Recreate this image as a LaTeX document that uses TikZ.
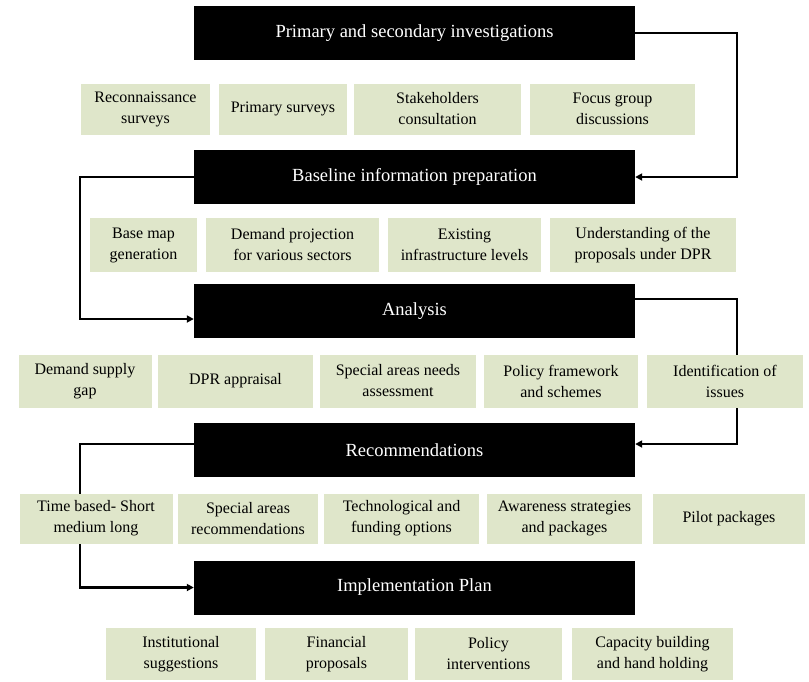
\documentclass[tikz,border=0pt]{standalone}
\usepackage{fontspec}
\setmainfont{Liberation Serif}
\usetikzlibrary{arrows.meta,backgrounds}
\definecolor{sage}{RGB}{223,230,202}
\tikzset{
  head/.style={fill=black,text=white,inner sep=0pt,minimum width=441pt,minimum height=54pt,font=\fontsize{18.5}{22}\selectfont},
  item/.style={fill=sage,text=black,inner sep=0pt,align=center,font=\fontsize{16}{21}\selectfont},
  flow/.style={line width=2.2pt,-{Triangle[length=7pt,width=7pt]}},
}
\newcommand{\itembox}[6]{\node[item,minimum width=#3pt,minimum height=#4pt] (#5) at (#1,#2) {#6};}
\begin{document}
\begin{tikzpicture}[x=1pt,y=-1pt]
\useasboundingbox (0,0) rectangle (809,681);
% heads
\node[head] (h1) at (414.5,33) {Primary and secondary investigations};
\node[head] (h2) at (414.5,177) {Baseline information preparation};
\node[head] (h3) at (414.5,311) {Analysis};
\node[head] (h4) at (414.5,450) {Recommendations};
\node[head] (h5) at (414.5,587.5) {Implementation Plan};
% row 1
\itembox{145.5}{109}{129}{51}{a1}{Reconnaissance\\surveys}
\itembox{283}{109}{128}{51}{a2}{Primary surveys}
\itembox{437.5}{109}{167}{51}{a3}{Stakeholders\\consultation}
\itembox{612.5}{109}{165}{51}{a4}{Focus group\\discussions}
% row 2
\itembox{143.5}{245}{107}{54}{b1}{Base map\\generation}
\itembox{292.5}{245}{173}{54}{b2}{Demand projection\\for various sectors}
\itembox{464.5}{245}{153}{54}{b3}{Existing\\infrastructure levels}
\itembox{643}{245}{186}{54}{b4}{Understanding of the\\proposals under DPR}
% row 3
\itembox{85}{381}{133}{53}{c1}{Demand supply\\gap}
\itembox{235.5}{381}{155}{53}{c2}{DPR appraisal}
\itembox{398}{381}{156}{53}{c3}{Special areas needs\\assessment}
\itembox{561}{381}{154}{53}{c4}{Policy framework\\and schemes}
\itembox{725}{381}{156}{53}{c5}{Identification of\\issues}
% row 4
\itembox{96}{518.5}{153}{50}{d1}{Time based- Short\\medium long}
\itembox{248}{518.5}{140}{50}{d2}{Special areas\\recommendations}
\itembox{401.5}{518.5}{155}{50}{d3}{Technological and\\funding options}
\itembox{564.5}{518.5}{155}{50}{d4}{Awareness strategies\\and packages}
\itembox{729}{518.5}{152}{50}{d5}{Pilot packages}
% row 5
\itembox{181}{654}{150}{52}{e1}{Institutional\\suggestions}
\itembox{336.5}{654}{143}{52}{e2}{Financial\\proposals}
\itembox{488.5}{654}{147}{52}{e3}{Policy\\interventions}
\itembox{652.5}{654}{161}{52}{e4}{Capacity building\\and hand holding}
% connectors
\begin{scope}[on background layer]
\coordinate (r1) at (737,0);
\coordinate (l1) at (80,0);
\draw[flow] (h1.east) -- (h1.east -| r1) -- (h2.east -| r1) -- (h2.east);
\draw[flow] (h2.west) -- (h2.west -| l1) -- ([yshift=-8pt]h3.west -| l1) -- ([yshift=-8pt]h3.west);
\draw[flow] ([yshift=12pt]h3.east) -- ([yshift=12pt]h3.east -| r1) -- ([yshift=6pt]h4.east -| r1) -- ([yshift=6pt]h4.east);
\draw[flow] ([yshift=6pt]h4.west) -- ([yshift=6pt]h4.west -| l1) -- (h5.west -| l1) -- (h5.west);
\end{scope}
\end{tikzpicture}
\end{document}
